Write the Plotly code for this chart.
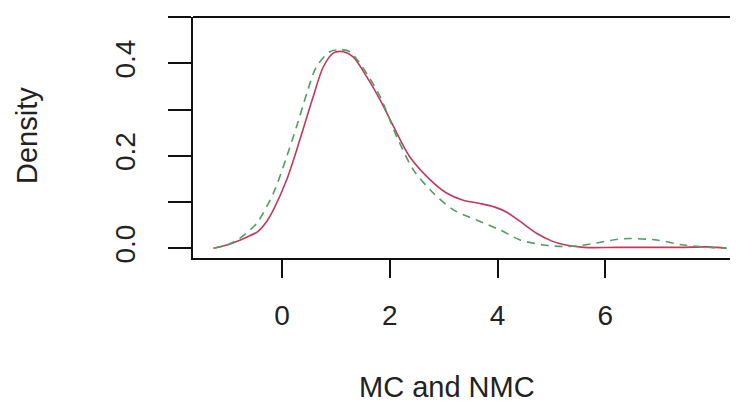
import plotly.graph_objects as go

# Red solid curve (MC)
mc_x = [-1.27, -0.95, -0.655, -0.45, -0.3, -0.16, 0.087, 0.33, 0.58, 0.77, 0.95, 1.14, 1.32,
        1.57, 1.82, 2.07, 2.37, 2.75, 3.06, 3.36, 3.67, 3.95, 4.17, 4.42, 4.73, 5.0,
        5.22, 5.6, 6.2, 6.8, 7.4, 7.9, 8.25]
mc_y = [0.0, 0.010, 0.024, 0.036, 0.055, 0.083, 0.148, 0.234, 0.328, 0.393, 0.422, 0.425, 0.414,
        0.371, 0.321, 0.263, 0.198, 0.148, 0.119, 0.104, 0.097, 0.089, 0.078, 0.058, 0.032, 0.016,
        0.008, 0.002, 0.002, 0.002, 0.002, 0.003, 0.0]

# Green dashed curve (NMC)
nmc_x = [-1.27, -1.0, -0.78, -0.47, -0.16, 0.087, 0.27, 0.46, 0.64, 0.89, 1.08, 1.26,
         1.57, 1.82, 2.13, 2.44, 2.81, 3.18, 3.61, 4.04, 4.42, 4.85, 5.2, 5.47, 5.96,
         6.2, 6.46, 6.95, 7.45, 7.94, 8.25]
nmc_y = [0.0, 0.008, 0.022, 0.054, 0.119, 0.198, 0.263, 0.335, 0.393, 0.425, 0.429, 0.425,
         0.378, 0.328, 0.241, 0.169, 0.119, 0.083, 0.061, 0.040, 0.018, 0.007, 0.004, 0.005, 0.014,
         0.019, 0.021, 0.018, 0.007, 0.002, 0.0]

x_ticks = [0, 2, 4, 6]
y_ticks = [0.0, 0.1, 0.2, 0.3, 0.4, 0.5]
y_tick_text = ["0.0", "", "0.2", "", "0.4", ""]

OFF = 8  # page body margin
W, H = 738 - OFF, 405 - OFF
L, R, T, B = 193 - OFF, 0, 17 - OFF, (405 - OFF) - (258 - OFF)

fig = go.Figure()
fig.add_trace(go.Scatter(x=mc_x, y=mc_y, mode="lines", name="MC",
                         line=dict(color="#c4385c", width=1.6, shape="spline", smoothing=0.9)))
fig.add_trace(go.Scatter(x=nmc_x, y=nmc_y, mode="lines", name="NMC",
                         line=dict(color="#4f9e62", width=1.6, dash="8px,6px",
                                   shape="spline", smoothing=0.8)))

font = "Liberation Sans, Arial, sans-serif"
fig.update_layout(
    width=W, height=H,
    margin=dict(l=L, r=R, t=T, b=B),
    paper_bgcolor="white", plot_bgcolor="white",
    showlegend=False,
    font=dict(family=font, color="#222222"),
    xaxis=dict(range=[-1.651, 8.46], tickvals=x_ticks, ticks="outside", ticklen=18,
               tickwidth=1.5, tickcolor="#111", showline=True, linecolor="#111", linewidth=1.8,
               showgrid=False, zeroline=False, tickfont=dict(size=28, family=font, color="#222"),
               ticklabelstandoff=13, automargin=False),
    yaxis=dict(range=[-0.021, 0.5], tickvals=y_ticks, ticktext=y_tick_text, ticks="outside",
               ticklen=23, tickwidth=1.5, tickcolor="#111", showline=True, linecolor="#111",
               linewidth=1.8, showgrid=False, zeroline=False, tickangle=-90,
               tickfont=dict(size=28, family=font, color="#222"), ticklabelstandoff=22,
               automargin=False),
)

pw = W - L - R
ph = H - T - B


def px_x(x):
    return (x - OFF - L) / pw


def px_y(y):
    return (H - B - (y - OFF)) / ph


# top border line (ends at page x=730)
fig.add_shape(type="line", xref="paper", yref="paper", x0=0, x1=px_x(730), y0=1, y1=1,
              line=dict(color="#111", width=1.8))

fig.add_annotation(text="MC and NMC", xref="paper", yref="paper",
                   x=px_x(447), y=px_y(387), xanchor="center", yanchor="middle",
                   showarrow=False, font=dict(size=29, family=font, color="#222"))
fig.add_annotation(text="Density", xref="paper", yref="paper", textangle=-90,
                   x=px_x(27), y=px_y(136), xanchor="center", yanchor="middle",
                   showarrow=False, font=dict(size=29, family=font, color="#222"))

fig.write_html("out.html")
